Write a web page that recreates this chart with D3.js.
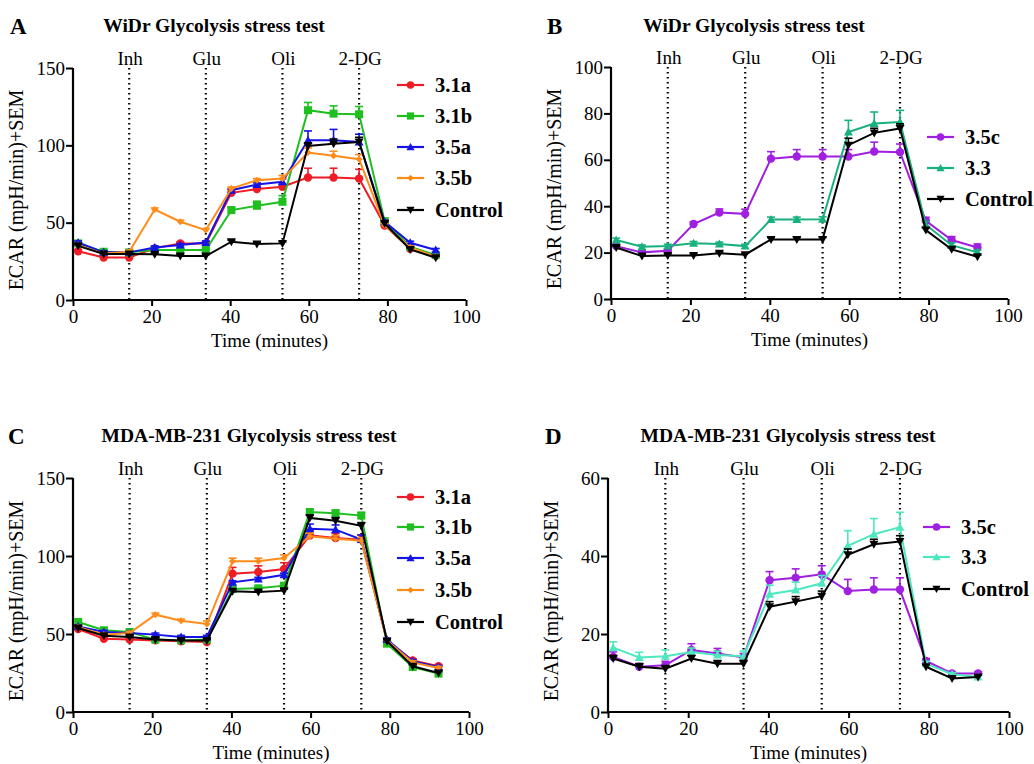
<!DOCTYPE html>
<html><head><meta charset="utf-8">
<script src="https://cdn.jsdelivr.net/npm/d3@7"></script>
<style>body{margin:0;background:#fff}svg{display:block}svg text{font-family:"Liberation Serif","Times New Roman",serif}</style>
</head><body><svg id="c" width="1034" height="764"></svg>
<script>
// ---------- data ----------
const times = [1.3, 7.8, 14.3, 20.8, 27.3, 33.8, 40.3, 46.8, 53.3, 59.8, 66.3, 72.8, 79.3, 85.8, 92.3];
const injections = [14.3, 33.8, 53.3, 72.8];
const injectionLabels = ["Inh", "Glu", "Oli", "2-DG"];
const xTicks = [0, 20, 40, 60, 80, 100];

// Panel A (WiDr)
const A_31a = [31.5, 27.5, 27.5, 33.4, 36.6, 36.6, 69.3, 71.7, 73.2, 79.2, 79.2, 78.5, 48.2, 33.1, 28.8];
const A_31a_sem = [1, 1, 1, 1, 1, 1, 2, 2, 2, 6, 6, 6, 1, 1, 1];
const A_31b = [36.6, 31.2, 30.8, 32.3, 32.3, 32.3, 58.1, 60.9, 63.5, 122.7, 120.5, 120.1, 51, 34.4, 29];
const A_31b_sem = [1, 1, 1, 1, 1, 1, 2, 3, 4, 5, 5, 5, 1, 1, 1];
const A_35a = [37.2, 30.8, 30.8, 34, 35.5, 37.2, 71, 74.7, 76.4, 103.3, 103.3, 102.2, 50.6, 37, 32.3];
const A_35a_sem = [1, 1, 1, 1, 1, 1, 1, 1, 2, 6, 7, 5, 1, 1, 1];
const A_35b = [35.5, 30, 31.2, 58.5, 50.6, 45.2, 72.1, 77.5, 78.5, 95.3, 93.2, 91, 48.4, 34, 28];
const A_35b_sem = [1, 1, 1, 1, 1, 1, 1, 1, 2, 3, 3, 3, 1, 1, 1];
const A_ctrl = [35, 29.7, 29.7, 29.5, 28.4, 28.4, 37.7, 36.2, 36.6, 99.6, 101.1, 102.2, 49.5, 32.7, 27.3];
const A_ctrl_sem = [1, 1, 1, 1, 1, 1, 1, 1, 1, 2, 3, 3, 1, 1, 1];

// Panel B (WiDr)
const B_35c = [22.8, 20.1, 20.8, 32.3, 37.3, 36.7, 60.5, 61.4, 61.4, 61.4, 63.6, 63.3, 33.7, 25.4, 22.2];
const B_35c_sem = [0.8, 0.8, 0.8, 1, 1.5, 2, 3, 3, 3, 3, 4, 3.5, 1.5, 1.5, 1.5];
const B_33 = [25.4, 22.5, 22.8, 24, 23.7, 22.8, 34.3, 34.3, 34.4, 72, 75.6, 76.3, 32, 23.2, 20.1];
const B_33_sem = [0.8, 0.8, 0.8, 0.8, 0.8, 0.8, 1, 1, 1, 5, 5, 5, 1.5, 1, 1];
const B_ctrl = [22.2, 18.5, 18.8, 18.8, 19.7, 19.1, 25.7, 25.7, 25.7, 66.3, 71.6, 73.5, 29.7, 21.4, 18.2];
const B_ctrl_sem = [0.6, 0.6, 0.6, 0.6, 0.6, 0.6, 0.8, 0.8, 0.8, 3, 2, 2, 1, 0.8, 0.8];

// Panel C (MDA-MB-231)
const C_31a = [53.2, 47, 46.4, 45.9, 45.3, 44.9, 88.7, 89.7, 91.7, 113.2, 111.5, 110.5, 45.3, 33.1, 29.3];
const C_31a_sem = [1, 1, 1, 1, 1, 1, 4, 4, 4, 3, 3, 3, 1, 1, 1];
const C_31b = [57.7, 52.4, 51.3, 46.4, 45.9, 46.4, 78.8, 79.3, 81, 128.2, 127.4, 125.9, 43.8, 28.8, 24.6];
const C_31b_sem = [1, 1, 1, 1, 1, 1, 1, 1, 1.5, 2, 2, 2, 1, 1, 1];
const C_35a = [54.9, 51.3, 50.6, 49.6, 48.1, 48.1, 83.1, 85.3, 88, 117.5, 116.9, 110.5, 46.4, 32.5, 28.8];
const C_35a_sem = [1, 1, 1, 1, 1, 1, 1, 1, 1, 3, 3, 3, 1, 1, 1];
const C_35b = [54.5, 49.6, 50.6, 62.4, 58.5, 56.4, 96.6, 96.6, 98.7, 112.6, 111.1, 109.8, 45.9, 31.8, 28.2];
const C_35b_sem = [1, 1, 1, 1, 1, 2, 2, 2, 2, 2, 2, 2, 1, 1, 1];
const C_ctrl = [53.8, 48.9, 48.1, 46.4, 45.9, 45.9, 77.4, 76.9, 77.8, 124.4, 122.6, 119.4, 45.3, 29.3, 25];
const C_ctrl_sem = [1, 1, 1, 1, 1, 1, 1, 1, 1, 2, 2, 2, 1, 1, 1];

// Panel D (MDA-MB-231)
const D_35c = [14.1, 11.6, 12, 15.9, 15, 14, 33.8, 34.4, 35.3, 31, 31.4, 31.4, 13.1, 9.9, 9.9];
const D_35c_sem = [1.3, 0.8, 1, 1.6, 1.3, 1, 2.2, 2.3, 2.2, 3, 3, 3, 0.6, 0.4, 0.4];
const D_33 = [16.5, 14, 14.3, 15.4, 14.6, 14.3, 30.2, 31.3, 33, 42.6, 45.6, 47.4, 12.4, 9.7, 9];
const D_33_sem = [1.5, 1.3, 1.6, 1, 1, 1.3, 2.3, 2, 2, 3.9, 4, 3.8, 0.6, 0.4, 0.4];
const D_ctrl = [13.7, 11.6, 11.1, 13.7, 12.4, 12.4, 27, 28.3, 29.7, 40.3, 43, 43.7, 11.6, 8.6, 9];
const D_ctrl_sem = [0.8, 0.8, 0.8, 0.8, 0.8, 0.8, 1.3, 1.3, 1.3, 1.5, 1.3, 1.5, 0.5, 0.4, 0.4];

// ---------- styles ----------
const COL = {red:"#ee1c25", green:"#1fbf1f", blue:"#1414e6", orange:"#ff8c1a", black:"#000000",
             purple:"#a01fe0", teal:"#18b07e", aqua:"#4ee8c0"};
const FONT = "'Liberation Serif','Times New Roman',serif";

const panels = [
  {letter:"A", title:"WiDr Glycolysis stress test", x0:73, x1:466, y0:68, y1:300, ymax:150, yTicks:[0,50,100,150],
   letterX:10, letterY:34, titleX:214, titleY:32, legX:397, legY:[85,116,147,178,210],
   series:[
    {name:"3.1a", v:A_31a, e:A_31a_sem, c:COL.red, m:"circle"},
    {name:"3.1b", v:A_31b, e:A_31b_sem, c:COL.green, m:"square"},
    {name:"3.5a", v:A_35a, e:A_35a_sem, c:COL.blue, m:"triangle"},
    {name:"3.5b", v:A_35b, e:A_35b_sem, c:COL.orange, m:"diamond"},
    {name:"Control", v:A_ctrl, e:A_ctrl_sem, c:COL.black, m:"tridown"}]},
  {letter:"B", title:"WiDr Glycolysis stress test", x0:611, x1:1008, y0:67, y1:299, ymax:100, yTicks:[0,20,40,60,80,100],
   letterX:547, letterY:34, titleX:754, titleY:32, legX:927, legY:[137,168,199],
   series:[
    {name:"3.5c", v:B_35c, e:B_35c_sem, c:COL.purple, m:"circle"},
    {name:"3.3", v:B_33, e:B_33_sem, c:COL.teal, m:"triangle"},
    {name:"Control", v:B_ctrl, e:B_ctrl_sem, c:COL.black, m:"tridown"}]},
  {letter:"C", title:"MDA-MB-231 Glycolysis stress test", x0:73, x1:469, y0:478, y1:712, ymax:150, yTicks:[0,50,100,150],
   letterX:8, letterY:444, titleX:249, titleY:442, legX:397, legY:[497,527,558,590,622],
   series:[
    {name:"3.1a", v:C_31a, e:C_31a_sem, c:COL.red, m:"circle"},
    {name:"3.1b", v:C_31b, e:C_31b_sem, c:COL.green, m:"square"},
    {name:"3.5a", v:C_35a, e:C_35a_sem, c:COL.blue, m:"triangle"},
    {name:"3.5b", v:C_35b, e:C_35b_sem, c:COL.orange, m:"diamond"},
    {name:"Control", v:C_ctrl, e:C_ctrl_sem, c:COL.black, m:"tridown"}]},
  {letter:"D", title:"MDA-MB-231 Glycolysis stress test", x0:608, x1:1009, y0:478, y1:712, ymax:60, yTicks:[0,20,40,60],
   letterX:545, letterY:444, titleX:788, titleY:442, legX:923, legY:[527,557,589],
   series:[
    {name:"3.5c", v:D_35c, e:D_35c_sem, c:COL.purple, m:"circle"},
    {name:"3.3", v:D_33, e:D_33_sem, c:COL.aqua, m:"triangle"},
    {name:"Control", v:D_ctrl, e:D_ctrl_sem, c:COL.black, m:"tridown"}]}
];

const svg = d3.select("#c");

function marker(g, type, x, y, color, s) {
  s = s || 1;
  if (type === "circle") g.append("circle").attr("cx",x).attr("cy",y).attr("r",4.2*s).attr("fill",color);
  else if (type === "square") g.append("rect").attr("x",x-4*s).attr("y",y-4*s).attr("width",8*s).attr("height",8*s).attr("fill",color);
  else if (type === "triangle") g.append("path").attr("d",`M${x},${y-4.5*s}L${x+4.5*s},${y+3.5*s}L${x-4.5*s},${y+3.5*s}Z`).attr("fill",color);
  else if (type === "diamond") g.append("path").attr("d",`M${x},${y-3.5*s}L${x+3.5*s},${y}L${x},${y+3.5*s}L${x-3.5*s},${y}Z`).attr("fill",color);
  else if (type === "tridown") g.append("path").attr("d",`M${x-4.5*s},${y-3.5*s}L${x+4.5*s},${y-3.5*s}L${x},${y+4.5*s}Z`).attr("fill",color);
}

panels.forEach(p => {
  const g = svg.append("g").attr("font-family", FONT);
  const x = d3.scaleLinear().domain([0,100]).range([p.x0,p.x1]);
  const y = d3.scaleLinear().domain([0,p.ymax]).range([p.y1,p.y0]);

  // letter + title
  g.append("text").attr("x",p.letterX).attr("y",p.letterY).attr("font-size",23).attr("font-weight","bold").text(p.letter);
  g.append("text").attr("x",p.titleX).attr("y",p.titleY).attr("text-anchor","middle").attr("font-size",19.5).attr("font-weight","bold").text(p.title);

  // axes
  const xa = g.append("g").attr("transform",`translate(0,${p.y1})`)
    .call(d3.axisBottom(x).tickValues(xTicks).tickSize(6).tickPadding(4).tickFormat(d3.format("d")));
  const ya = g.append("g").attr("transform",`translate(${p.x0},0)`)
    .call(d3.axisLeft(y).tickValues(p.yTicks).tickSize(7).tickPadding(1).tickFormat(d3.format("d")));
  [xa,ya].forEach(a => {
    a.attr("font-family", FONT).attr("font-size", 19);
    a.select(".domain").attr("stroke","#000").attr("stroke-width",2.2);
    a.selectAll(".tick line").attr("stroke","#000").attr("stroke-width",2);
    a.selectAll(".tick text").attr("font-size",19).attr("fill","#000");
  });
  xa.select(".domain").attr("d",`M${p.x0},0H${p.x1}`);
  ya.select(".domain").attr("d",`M0,${p.y1}V${p.y0}`);

  // axis titles
  g.append("text").attr("x",(p.x0+p.x1)/2).attr("y",p.y1+47).attr("text-anchor","middle").attr("font-size",19).text("Time (minutes)");
  g.append("text").attr("transform",`translate(${p.x0-50},${(p.y0+p.y1)/2+6}) rotate(-90)`).attr("text-anchor","middle").attr("font-size",20).text("ECAR (mpH/min)+SEM");

  // injection lines
  injections.forEach((t,i) => {
    g.append("line").attr("x1",x(t)).attr("x2",x(t)).attr("y1",p.y0).attr("y2",p.y1)
      .attr("stroke","#000").attr("stroke-width",2.2).attr("stroke-dasharray","1.6,3.4");
    g.append("text").attr("x",x(t)+1).attr("y",p.y0-3).attr("text-anchor","middle").attr("font-size",19).text(injectionLabels[i]);
  });

  // series
  const line = d3.line().x((d,i)=>x(times[i])).y(d=>y(d));
  p.series.forEach(s => {
    const sg = g.append("g");
    s.v.forEach((v,i) => {
      const xx = x(times[i]), yt = y(v + s.e[i]);
      sg.append("line").attr("x1",xx).attr("x2",xx).attr("y1",y(v)).attr("y2",yt).attr("stroke",s.c).attr("stroke-width",1.6);
      sg.append("line").attr("x1",xx-4).attr("x2",xx+4).attr("y1",yt).attr("y2",yt).attr("stroke",s.c).attr("stroke-width",1.6);
    });
    sg.append("path").datum(s.v).attr("d",line).attr("fill","none").attr("stroke",s.c).attr("stroke-width",2);
    s.v.forEach((v,i) => marker(sg, s.m, x(times[i]), y(v), s.c, 1));
  });

  // legend
  p.series.forEach((s,i) => {
    const ly = p.legY[i];
    g.append("line").attr("x1",p.legX).attr("x2",p.legX+27).attr("y1",ly).attr("y2",ly).attr("stroke",s.c).attr("stroke-width",2.2);
    marker(g, s.m, p.legX+13.5, ly, s.c, 0.9);
    g.append("text").attr("x",p.legX+38).attr("y",ly+7).attr("font-size",20.5).attr("font-weight","bold").text(s.name);
  });
});
</script></body></html>
